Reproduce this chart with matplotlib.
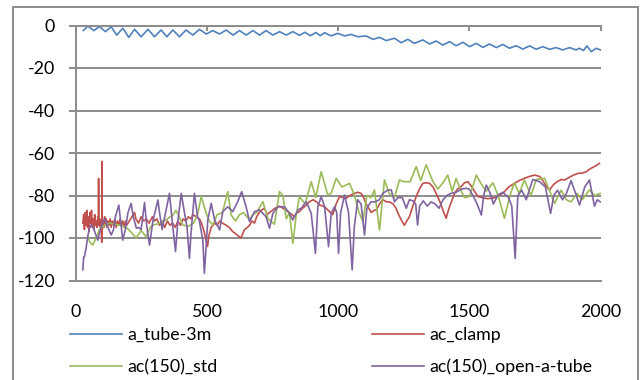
import matplotlib
matplotlib.use("Agg")
import matplotlib.pyplot as plt
from matplotlib.patches import Rectangle

plt.rcParams['font.family'] = ['Lato', 'DejaVu Sans']
plt.rcParams['axes.unicode_minus'] = False

# ---------------- data ----------------
blue_x = [30, 47, 70, 91, 114, 136, 157, 180, 203, 225, 250, 276, 301, 326, 348, 371,
          396, 421, 447, 472, 498, 523, 549, 574, 600, 625, 650, 676, 701, 726, 752, 777,
          803, 828, 853, 874, 895, 916, 932, 949, 974, 999, 1025, 1050, 1076, 1107, 1133,
          1158, 1184, 1215, 1241, 1266, 1291, 1323, 1349, 1374, 1399, 1425, 1450, 1476,
          1501, 1527, 1552, 1577, 1603, 1628, 1653, 1679, 1704, 1730, 1755, 1780, 1806,
          1831, 1856, 1882, 1907, 1920, 1935, 1948, 1965, 1984, 1999]
blue_y = [-2.4, -0.3, -2.4, -0.5, -2.9, -0.6, -4.5, -1.3, -5.6, -1.8, -5.3, -1.8, -5.3,
          -2.1, -5.3, -2.1, -5.3, -2.1, -4.5, -1.8, -4.0, -2.4, -4.0, -2.1, -4.5, -2.4,
          -4.5, -2.4, -4.5, -2.4, -4.5, -2.9, -4.5, -2.9, -4.6, -3.2, -4.8, -3.3, -4.8,
          -3.4, -4.9, -3.7, -4.9, -4.2, -5.3, -4.9, -6.5, -5.6, -7.1, -6.0, -8.1, -6.5,
          -8.4, -6.8, -8.7, -7.3, -9.2, -7.6, -9.5, -7.9, -9.95, -8.4, -10.3, -8.7, -10.4,
          -8.9, -10.7, -9.5, -11.1, -9.6, -11.2, -9.95, -11.2, -10.4, -11.5, -10.4, -11.5,
          -10.7, -11.8, -9.6, -12.3, -10.7, -11.5]

red_x = [28, 31, 34, 37, 40, 43, 46, 49, 52, 55, 58, 61, 64, 67, 70, 73, 76, 79, 82, 85,
         87, 88, 89, 92, 95, 98, 100, 101, 102, 105, 108, 111, 114, 117, 120, 124, 128,
         132, 136, 140, 145, 150, 155, 160, 165, 170, 175, 180, 185, 190, 195, 200, 210,
         220, 225, 230, 240, 250, 260, 270, 280, 293, 300, 310, 320, 330, 340, 350, 360,
         370, 380, 390, 400, 410, 420, 430, 440, 447, 460, 472, 480, 490, 497, 503, 508,
         517, 530, 540, 549, 560, 574, 585, 599, 610, 620, 631, 637, 644, 655, 663, 672,
         682, 690, 700, 707, 720, 730, 739, 750, 760, 777, 790, 803, 815, 825, 834, 845,
         853, 865, 879, 890, 905, 918, 930, 943, 955, 968, 980, 993, 1006, 1020, 1031,
         1045, 1063, 1075, 1088, 1098, 1107, 1117, 1127, 1137, 1146, 1158, 1171, 1185,
         1196, 1210, 1221, 1231, 1241, 1253, 1262, 1272, 1285, 1298, 1310, 1323, 1336,
         1349, 1362, 1374, 1385, 1393, 1403, 1412, 1418, 1425, 1435, 1444, 1455, 1469,
         1482, 1495, 1510, 1520, 1533, 1550, 1570, 1584, 1600, 1615, 1634, 1650, 1672,
         1690, 1710, 1730, 1749, 1768, 1780, 1795, 1806, 1820, 1835, 1850, 1863, 1880,
         1895, 1914, 1930, 1946, 1960, 1975, 1996]
red_y = [-93, -89, -96, -88, -94, -87, -95, -90, -97, -88, -93, -87, -95, -91, -96, -89,
         -94, -92, -95, -90, -93, -72, -94, -91, -95, -92, -102, -64, -96, -92, -95, -90,
         -94, -91, -95, -92, -94, -91, -95, -92, -94, -91, -95, -92, -94, -91, -94, -92,
         -95, -92, -94, -93, -91, -89, -88, -91, -93, -90, -92, -91, -93, -90, -92, -91,
         -94, -92, -95, -92, -94, -93, -95, -92, -94, -91, -92, -90, -91, -89, -90, -91,
         -93, -97, -101, -104, -99, -95, -93, -94, -92, -93, -94, -95, -97, -98, -99,
         -100, -98, -96, -95, -94, -92, -93, -90, -88, -87, -86, -89, -88, -87, -86, -85,
         -86, -87, -88, -89, -90, -88, -87.6, -86, -84.5, -83, -82, -83, -84.5, -85, -86,
         -87.6, -89, -84, -80.5, -81, -81.3, -80, -79, -78.5, -79, -81, -84, -86, -88,
         -87, -86.8, -84, -82, -83, -83, -84, -86, -89, -91.5, -94, -92, -90, -85, -80.5,
         -77, -74.3, -74, -74.3, -76, -79, -82, -84.5, -88, -90.7, -88, -85.3, -82, -79,
         -77, -75.8, -74, -73.5, -76, -78, -80.5, -81, -81.5, -81.3, -81, -80, -78.2, -76,
         -74.3, -73, -71.9, -71, -70.4, -71, -73, -76, -77.4, -75, -73.5, -72.5, -72.7,
         -71.5, -70.5, -69.6, -69.5, -68.8, -67.5, -66.5, -64.9]

green_x = [47, 55, 66, 78, 91, 110, 130, 150, 170, 193, 210, 231, 250, 269, 285, 294, 310,
           330, 350, 371, 383, 395, 409, 430, 450, 465, 479, 490, 498, 510, 523, 540, 560,
           580, 593, 610, 625, 640, 663, 675, 690, 714, 733, 758, 777, 790, 803, 815, 828,
           840, 853, 875, 898, 915, 936, 961, 974, 993, 1015, 1044, 1063, 1080, 1095, 1110,
           1125, 1139, 1158, 1177, 1195, 1215, 1234, 1250, 1275, 1298, 1315, 1336, 1360,
           1380, 1400, 1418, 1435, 1450, 1468, 1482, 1500, 1510, 1527, 1545, 1565, 1590,
           1610, 1634, 1655, 1672, 1690, 1710, 1735, 1755, 1787, 1805, 1825, 1850, 1870,
           1888, 1910, 1930, 1958, 1978, 1999]
green_y = [-99.4, -102, -103.3, -100, -96.2, -94, -93, -93.5, -94, -95, -97, -100, -96.5,
           -99.4, -95, -93.9, -93.5, -92.5, -91, -89.2, -87, -90, -93.9, -94.5, -93, -89,
           -80.5, -85, -88.4, -92, -93.9, -89, -88, -78.2, -89.2, -92, -89, -88, -91.5, -89,
           -88, -82.9, -91, -93.5, -78.2, -80, -91, -88, -102.5, -90, -80.5, -84, -73.5,
           -81, -68.8, -79.8, -79, -71.9, -76, -74.3, -80, -88, -92.3, -80, -81, -77.4,
           -96.2, -72.7, -79, -81, -72.7, -73.5, -73.5, -66.4, -73, -65.6, -73, -77, -74,
           -70.4, -78, -72, -77.5, -81, -80.5, -77, -70.4, -74.5, -78, -74, -80, -90.7, -80,
           -74, -79, -72.7, -80, -72.5, -71.9, -77.5, -83.7, -77.5, -82, -83, -79, -82,
           -77.4, -80, -79]

purple_x = [28, 31, 34, 40, 47, 53, 60, 68, 76, 85, 95, 104, 112, 120, 136, 145, 152, 165,
            172, 180, 190, 200, 212, 220, 232, 240, 250, 263, 272, 282, 295, 314, 320, 330,
            340, 358, 370, 381, 390, 403, 415, 425, 434, 440, 453, 465, 472, 485, 491, 504,
            517, 530, 549, 561, 580, 599, 618, 633, 650, 663, 682, 701, 726, 739, 752, 771,
            796, 815, 828, 847, 860, 879, 898, 914, 923, 936, 949, 964, 974, 987, 995, 1002,
            1010, 1025, 1040, 1054, 1062, 1075, 1088, 1101, 1110, 1125, 1140, 1158, 1171,
            1190, 1203, 1215, 1228, 1245, 1260, 1272, 1285, 1296, 1303, 1311, 1325, 1340,
            1355, 1370, 1385, 1400, 1415, 1430, 1450, 1470, 1488, 1500, 1514, 1530, 1546,
            1555, 1565, 1580, 1592, 1609, 1628, 1650, 1662, 1675, 1685, 1700, 1717, 1742,
            1768, 1790, 1810, 1822, 1836, 1855, 1870, 1888, 1905, 1920, 1940, 1958, 1977,
            1988, 1999]
purple_y = [-115, -109, -108.8, -105, -99, -95.4, -94, -95, -98, -101, -96, -92.3, -91, -94,
            -98.6, -96, -90, -84.5, -92, -101, -96, -88, -83.7, -90, -95.4, -95, -96, -83.3,
            -95, -103.3, -92, -82.1, -88, -96, -90, -79, -94, -106.4, -92, -79, -88, -95,
            -109.6, -98, -79, -90, -92, -101, -116.6, -91.5, -83.7, -91.5, -96.2, -87.6,
            -85.3, -87.6, -82.9, -78.2, -85.3, -92.3, -87.6, -86.8, -90, -95.4, -88.4,
            -85.3, -85.3, -88.4, -91.5, -86.8, -86, -82.9, -88.4, -107.2, -85.3, -80.5,
            -85.3, -104.1, -88.4, -85.3, -88, -107.2, -88, -79.8, -88, -115, -95, -82, -84,
            -98.6, -86, -83, -83, -82, -79, -77.4, -77.4, -83, -81, -81, -86, -82, -82.5,
            -84, -93.9, -85, -82.5, -85, -83, -84, -86, -82, -80, -79, -78.5, -77, -76.6,
            -77, -80, -84, -89.2, -80, -75.1, -79, -84, -79.8, -78.5, -81, -85, -109.6, -80,
            -77.5, -82, -72.5, -73.5, -76, -88.4, -80, -77.5, -82, -79, -73, -79, -84.5,
            -76, -72.7, -85, -82, -83]

series_names = ["a_tube-3m", "ac_clamp", "ac(150)_std", "ac(150)_open-a-tube"]
x_ticks = [0, 500, 1000, 1500, 2000]
y_ticks = [-120, -100, -80, -60, -40, -20, 0]

# ---------------- styling ----------------
C_BLUE, C_RED, C_GREEN, C_PURPLE = "#4F81BD", "#C0504D", "#9BBB59", "#8064A2"
GRID = "#8c8c8c"
FS = 12.8

fig = plt.figure(figsize=(6.4, 3.8), dpi=100)
W, H = 640.0, 380.0
L, R, T, B = 75.5, 600.5, 25.5, 280.5
ax = fig.add_axes([L / W, 1 - B / H, (R - L) / W, (B - T) / H])

lw = 1.2
hb, = ax.plot(blue_x, blue_y, color=C_BLUE, lw=lw, label=series_names[0])
hr, = ax.plot(red_x, red_y, color=C_RED, lw=lw, label=series_names[1])
hg, = ax.plot(green_x, green_y, color=C_GREEN, lw=lw, label=series_names[2])
hp, = ax.plot(purple_x, purple_y, color=C_PURPLE, lw=lw, label=series_names[3])

ax.set_xlim(0, 2000)
ax.set_ylim(-120, 0)
ax.set_xticks(x_ticks)
ax.set_xticklabels([str(v) for v in x_ticks])
ax.set_yticks(y_ticks)
ax.set_yticklabels([str(v) for v in y_ticks])
ax.set_axisbelow(True)
ax.grid(axis='y', color=GRID, lw=1.4)
ax.grid(axis='x', visible=False)

ax.spines['right'].set_visible(False)
for s in ['left', 'top', 'bottom']:
    ax.spines[s].set_color(GRID)
    ax.spines[s].set_linewidth(1.4)

ax.tick_params(axis='x', top=True, bottom=False, labeltop=False, labelbottom=True,
               direction='in', length=3.8, width=1.4, color=GRID, pad=17,
               labelsize=FS, labelcolor='black')
ax.tick_params(axis='y', left=True, direction='out', length=5, width=1.4, color=GRID,
               pad=9.7, labelsize=FS, labelcolor='black')

# legend: two columns placed under the plot
leg_kw = dict(frameon=False, fontsize=FS, borderpad=0, handlelength=52 / (FS * 100 / 72),
              handletextpad=5 / (FS * 100 / 72), labelspacing=0.9, loc='center left')
yc = 1 - 351.2 / H
leg1 = fig.legend(handles=[hb, hg], bbox_to_anchor=(61 / W, yc), **leg_kw)
leg2 = fig.legend(handles=[hr, hp], bbox_to_anchor=(363 / W, yc), **leg_kw)

# outer chart-area frame
frame = Rectangle((13.3 / W, -0.05), (638.3 - 13.3) / W, (1 - 7.3 / H) + 0.05,
                  transform=fig.transFigure, fill=False, edgecolor=GRID, lw=1.4,
                  clip_on=False)
fig.add_artist(frame)

fig.savefig("out.png", dpi=100)
